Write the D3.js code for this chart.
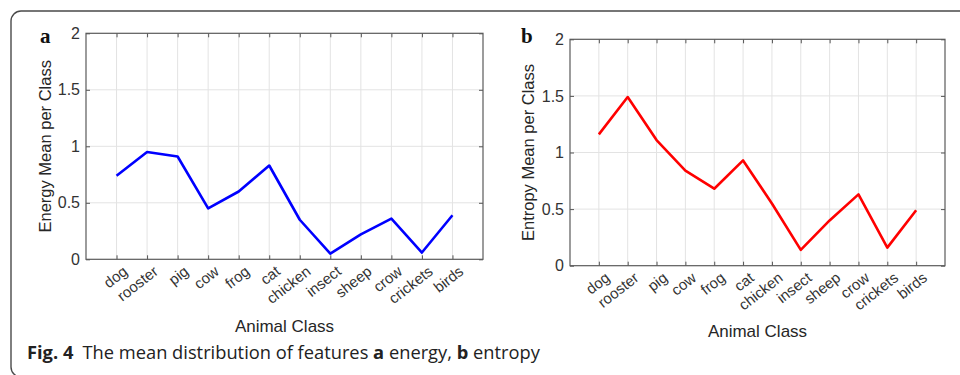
<!DOCTYPE html>
<html>
<head>
<meta charset="utf-8">
<script src="https://cdn.jsdelivr.net/npm/d3@7"></script>
<style>
  html, body { margin: 0; padding: 0; background: #fff; }
  svg { display: block; }
</style>
</head>
<body>
<svg id="chart" width="960" height="375"></svg>
<script>
const categories = ["dog", "rooster", "pig", "cow", "frog", "cat", "chicken", "insect", "sheep", "crow", "crickets", "birds"];
const energy  = [0.74, 0.95, 0.91, 0.45, 0.60, 0.83, 0.35, 0.05, 0.22, 0.36, 0.06, 0.39];
const entropy = [1.16, 1.49, 1.11, 0.84, 0.68, 0.93, 0.55, 0.14, 0.40, 0.63, 0.16, 0.49];
const yTicks = [0, 0.5, 1, 1.5, 2];
const yTickLabels = ["0", "0.5", "1", "1.5", "2"];
const panels = [
  { letter: "a", yLabel: "Energy Mean per Class", xLabel: "Animal Class", values: energy, color: "#0000ff" },
  { letter: "b", yLabel: "Entropy Mean per Class", xLabel: "Animal Class", values: entropy, color: "#ff0000" }
];
const captionParts = [
  { t: "Fig. 4", bold: true },
  { t: "\u2002The mean distribution of features ", bold: false },
  { t: "a", bold: true },
  { t: " energy, ", bold: false },
  { t: "b", bold: true },
  { t: " entropy", bold: false }
];

const svg = d3.select("#chart");

// outer frame with rounded corner
svg.append("rect")
  .attr("x", 11).attr("y", 11)
  .attr("width", 1000).attr("height", 366)
  .attr("rx", 10).attr("ry", 10)
  .attr("fill", "none").attr("stroke", "#4a4a4a").attr("stroke-width", 1.4);

const layouts = [
  { left: 86, right: 483, top: 33.3, bottom: 259.3, letterX: 40, letterY: 43, yLabelX: 50.5, xLabelY: 332 },
  { left: 570, right: 945, top: 39.3, bottom: 265.7, letterX: 521, letterY: 43, yLabelX: 533.5, xLabelY: 337 }
];

panels.forEach((p, k) => {
  const L = layouts[k];
  const x = d3.scaleLinear().domain([0, categories.length + 1]).range([L.left, L.right]);
  const y = d3.scaleLinear().domain([0, 2]).range([L.bottom, L.top]);
  const g = svg.append("g");
  const idx = categories.map((c, i) => i + 1);

  // grid
  g.append("g").selectAll("line").data(idx).join("line")
    .attr("x1", d => x(d)).attr("x2", d => x(d))
    .attr("y1", L.top).attr("y2", L.bottom)
    .attr("stroke", "#e3e3e3").attr("stroke-width", 1);
  g.append("g").selectAll("line").data(yTicks.slice(1, -1)).join("line")
    .attr("x1", L.left).attr("x2", L.right)
    .attr("y1", d => y(d)).attr("y2", d => y(d))
    .attr("stroke", "#e3e3e3").attr("stroke-width", 1);

  // axes (ticks only)
  const xAxis = d3.axisBottom(x).tickValues(idx).tickFormat("").tickSizeInner(-4).tickSizeOuter(0);
  const xg = g.append("g").attr("transform", `translate(0,${L.bottom})`).call(xAxis);
  xg.select(".domain").remove();
  xg.selectAll(".tick line").attr("stroke", "#555");

  // rotated category labels
  g.append("g").selectAll("text").data(idx).join("text")
    .attr("transform", d => `translate(${x(d) + 12},${L.bottom + 14}) rotate(-38)`)
    .attr("text-anchor", "end")
    .style("font-family", "'Liberation Sans', Arial, sans-serif")
    .style("font-size", "15px")
    .attr("fill", "#333")
    .text(d => categories[d - 1]);

  const xTop = d3.axisTop(x).tickValues(idx).tickFormat("").tickSizeInner(-4).tickSizeOuter(0);
  const xtg = g.append("g").attr("transform", `translate(0,${L.top})`).call(xTop);
  xtg.select(".domain").remove();
  xtg.selectAll(".tick line").attr("stroke", "#555");

  const yAxis = d3.axisLeft(y).tickValues(yTicks).tickFormat((d, i) => yTickLabels[i]).tickSizeInner(-4).tickSizeOuter(0).tickPadding(6);
  const yg = g.append("g").attr("transform", `translate(${L.left},0)`).call(yAxis);
  yg.select(".domain").remove();
  yg.selectAll(".tick line").attr("stroke", "#555");
  yg.selectAll(".tick text")
    .style("font-family", "'Liberation Sans', Arial, sans-serif")
    .style("font-size", "16px").attr("fill", "#333");

  const yRight = d3.axisRight(y).tickValues(yTicks).tickFormat("").tickSizeInner(-4).tickSizeOuter(0);
  const yrg = g.append("g").attr("transform", `translate(${L.right},0)`).call(yRight);
  yrg.select(".domain").remove();
  yrg.selectAll(".tick line").attr("stroke", "#555");

  // box
  g.append("rect")
    .attr("x", L.left).attr("y", L.top)
    .attr("width", L.right - L.left).attr("height", L.bottom - L.top)
    .attr("fill", "none").attr("stroke", "#5a5a5a").attr("stroke-width", 1.2);

  // line
  const line = d3.line().x((d, i) => x(i + 1)).y(d => y(d));
  g.append("path").datum(p.values)
    .attr("d", line)
    .attr("fill", "none").attr("stroke", p.color)
    .attr("stroke-width", 2.6).attr("stroke-linejoin", "round");

  // labels
  g.append("text")
    .attr("x", L.letterX).attr("y", L.letterY)
    .style("font-family", "'Liberation Serif', 'Times New Roman', serif")
    .style("font-weight", "bold").style("font-size", "21px").attr("fill", "#111")
    .text(p.letter);

  g.append("text")
    .attr("transform", `translate(${L.yLabelX},${(L.top + L.bottom) / 2}) rotate(-90)`)
    .attr("text-anchor", "middle")
    .style("font-family", "'Liberation Sans', Arial, sans-serif")
    .style("font-size", "16.5px").attr("fill", "#262626")
    .text(p.yLabel);

  g.append("text")
    .attr("x", (L.left + L.right) / 2).attr("y", L.xLabelY)
    .attr("text-anchor", "middle")
    .style("font-family", "'Liberation Sans', Arial, sans-serif")
    .style("font-size", "17px").attr("fill", "#262626")
    .text(p.xLabel);
});

// caption
const cap = svg.append("text")
  .attr("x", 27).attr("y", 359)
  .style("font-family", "'Open Sans', 'Noto Sans', sans-serif")
  .style("font-size", "18.3px").attr("fill", "#222");
captionParts.forEach(c => {
  cap.append("tspan").style("font-weight", c.bold ? "bold" : "normal").text(c.t);
});
</script>
</body>
</html>
